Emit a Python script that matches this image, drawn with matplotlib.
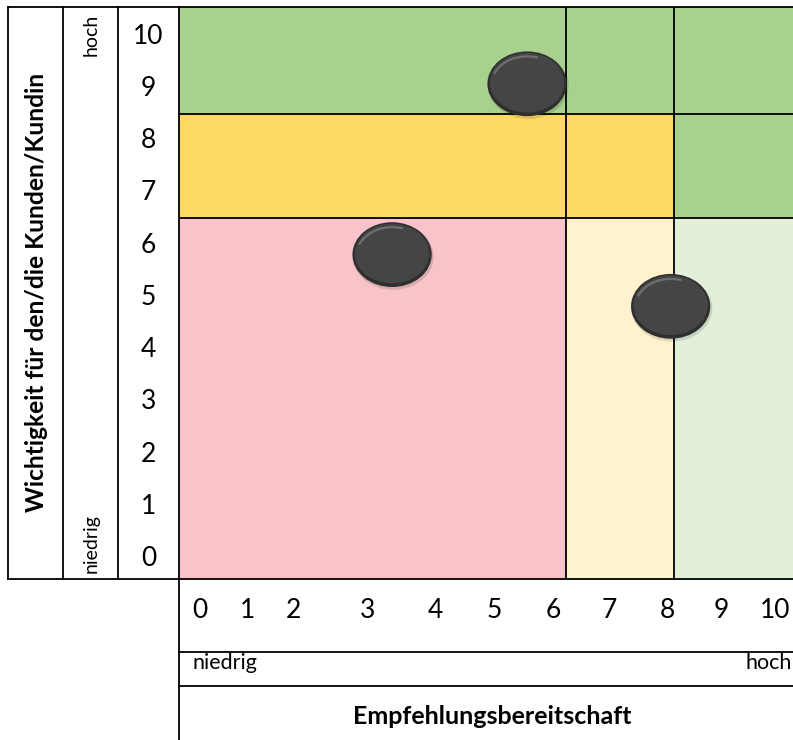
import matplotlib.pyplot as plt
from matplotlib.patches import Ellipse, Rectangle, Arc
from matplotlib.lines import Line2D

plt.rcParams['font.family'] = ['Lato', 'DejaVu Sans']

# Punkte: Empfehlungsbereitschaft (x) und Wichtigkeit (y)
punkte_x = [3.34, 5.69, 8.19]
punkte_y = [5.77, 9.04, 4.78]

y_labels = ['0', '1', '2', '3', '4', '5', '6', '7', '8', '9', '10']
x_labels = ['0', '1', '2', '3', '4', '5', '6', '7', '8', '9', '10']

# Felder der Matrix: (x0, x1, y0, y1, farbe)
felder = [
    (-0.37, 10.32, 8.47, 10.51, '#A9D18E'),
    (-0.37, 8.24, 6.48, 8.47, '#FFD966'),
    (8.24, 10.32, 6.48, 8.47, '#A9D18E'),
    (-0.37, 6.37, -0.44, 6.48, '#F8C3C9'),
    (6.37, 8.24, -0.44, 6.48, '#FFF2CC'),
    (8.24, 10.32, -0.44, 6.48, '#E2EFDA'),
]
x_grenzen = [6.37, 8.24]
y_grenzen = [6.48, 8.47]

W, H = 793, 740
fig = plt.figure(figsize=(W / 100, H / 100), dpi=100)


def fx(px):
    return px / W


def fy(py):
    return 1 - py / H


ax = fig.add_axes([fx(179), fy(579), fx(793) - fx(179), fy(7) - fy(579)])
ax.set_xlim(-0.37, 10.32)
ax.set_ylim(-0.44, 10.51)

for x0, x1, y0, y1, c in felder:
    ax.add_patch(Rectangle((x0, y0), x1 - x0, y1 - y0, facecolor=c, edgecolor='none', zorder=0))
for xv in x_grenzen:
    ax.axvline(xv, color='black', lw=1.3, zorder=1)
for yv in y_grenzen:
    ax.axhline(yv, color='black', lw=1.3, zorder=1)

# dunkle Knöpfe mit leichtem Relief
bw, bh = 1.38, 1.24
for x, y in zip(punkte_x, punkte_y):
    ax.add_patch(Ellipse((x + 0.02, y - 0.04), bw + 0.03, bh + 0.03,
                         facecolor='black', alpha=0.12, edgecolor='none', zorder=3))
    ax.add_patch(Ellipse((x, y), bw, bh, facecolor='#2f2f2f', edgecolor='none', zorder=4))
    ax.add_patch(Ellipse((x, y + 0.02), bw * 0.94, bh * 0.92, facecolor='#454545',
                         edgecolor='none', zorder=5))
    ax.add_patch(Arc((x, y - 0.02), bw * 0.9, bh * 0.88, theta1=70, theta2=160,
                     color='#6e6e6e', lw=1.6, zorder=6))

ax.set_yticks(range(len(y_labels)))
ax.set_yticklabels(y_labels, fontsize=19, ha='center')
ax.tick_params(axis='y', length=0, pad=22)
ax.set_xticks([])
for s in ax.spines.values():
    s.set_visible(False)

# Tabellenlinien
linien = [
    ((8, 793), (7, 7)),
    ((8, 793), (579, 579)),
    ((8, 8), (7, 579)),
    ((63, 63), (7, 579)),
    ((118, 118), (7, 579)),
    ((179, 179), (7, 740)),
    ((179, 793), (652, 652)),
    ((179, 793), (686, 686)),
]
for (xa, xb), (ya, yb) in linien:
    fig.add_artist(Line2D([fx(xa), fx(xb)], [fy(ya), fy(yb)], color='black', lw=1.3))

fig.text(fx(37), fy(292), 'Wichtigkeit für den/die Kunden/Kundin', rotation=90,
         ha='center', va='center', fontsize=17.7, fontweight='bold')
fig.text(fx(91), fy(14), 'hoch', rotation=90, ha='center', va='top', fontsize=14)
fig.text(fx(91), fy(573), 'niedrig', rotation=90, ha='center', va='bottom', fontsize=14)

x_pos = [200, 248, 293, 368, 435, 494, 553, 609, 667, 721, 775]
for lab, px in zip(x_labels, x_pos):
    fig.text(fx(px), fy(610), lab, ha='center', va='center', fontsize=19)

fig.text(fx(192), fy(663), 'niedrig', ha='left', va='center', fontsize=15.5)
fig.text(fx(792), fy(663), 'hoch', ha='right', va='center', fontsize=15.5)
fig.text(fx(492), fy(716), 'Empfehlungsbereitschaft', ha='center', va='center',
         fontsize=18, fontweight='bold')

fig.savefig('out.png', dpi=100)
